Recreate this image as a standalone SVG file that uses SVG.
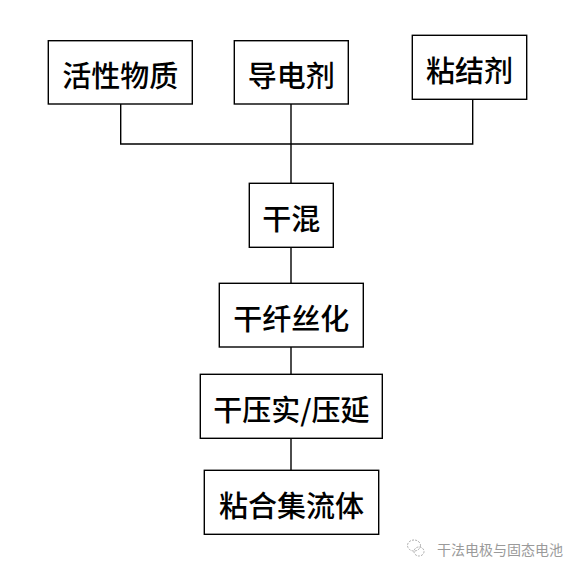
<svg xmlns="http://www.w3.org/2000/svg" width="582" height="573" viewBox="0 0 582 573">
<style>
.box{fill:#fff;stroke:#000;stroke-width:1.4}
.lbl{font-family:"Noto Sans CJK SC","Noto Sans CJK JP",sans-serif;font-size:29px;font-weight:500;fill:#000;text-anchor:middle;dominant-baseline:central}
.conn{fill:none;stroke:#000;stroke-width:1.4}
.wm{font-family:"Noto Sans CJK SC",sans-serif;font-size:14px;fill:#9a9a9a;dominant-baseline:central}
.ic{fill:none;stroke:#aaa;stroke-width:1}
</style>
<rect width="582" height="573" fill="#fff"/>
<g id="connectors">
<polyline class="conn" points="120.7,104 120.7,144 472.7,144 472.7,99"/>
<line class="conn" x1="291" y1="104" x2="291" y2="183.3"/>
<line class="conn" x1="291" y1="247.3" x2="291" y2="283.3"/>
<line class="conn" x1="291" y1="347" x2="291" y2="374.3"/>
<line class="conn" x1="291" y1="438.3" x2="291" y2="470.3"/>
</g>
<g id="n1"><rect class="box" x="48.3" y="40.7" width="144" height="63.3"/><text class="lbl" x="120.3" y="74">活性物质</text></g>
<g id="n2"><rect class="box" x="234.3" y="40.7" width="114" height="63.3"/><text class="lbl" x="291.3" y="74">导电剂</text></g>
<g id="n3"><rect class="box" x="412.3" y="35.3" width="114.4" height="64"/><text class="lbl" x="469.5" y="68.5">粘结剂</text></g>
<g id="n4"><rect class="box" x="249.3" y="183.3" width="84" height="64"/><text class="lbl" x="291.3" y="216.5">干混</text></g>
<g id="n5"><rect class="box" x="219.3" y="283.3" width="144" height="63.7"/><text class="lbl" x="291.3" y="316.5">干纤丝化</text></g>
<g id="n6"><rect class="box" x="200.3" y="374.3" width="182" height="64"/><text class="lbl" x="291.3" y="407.5">干压实/压延</text></g>
<g id="n7"><rect class="box" x="204.3" y="470.3" width="174.4" height="64"/><text class="lbl" x="291.5" y="503.5">粘合集流体</text></g>
<g id="watermark">
<ellipse class="ic" cx="414" cy="545.5" rx="6.5" ry="5.5" stroke-dasharray="2 1.2"/>
<ellipse class="ic" cx="419" cy="551.5" rx="5" ry="4.5" stroke-dasharray="2 1.2"/>
<text class="wm" x="437" y="548.5">干法电极与固态电池</text>
</g>
</svg>
